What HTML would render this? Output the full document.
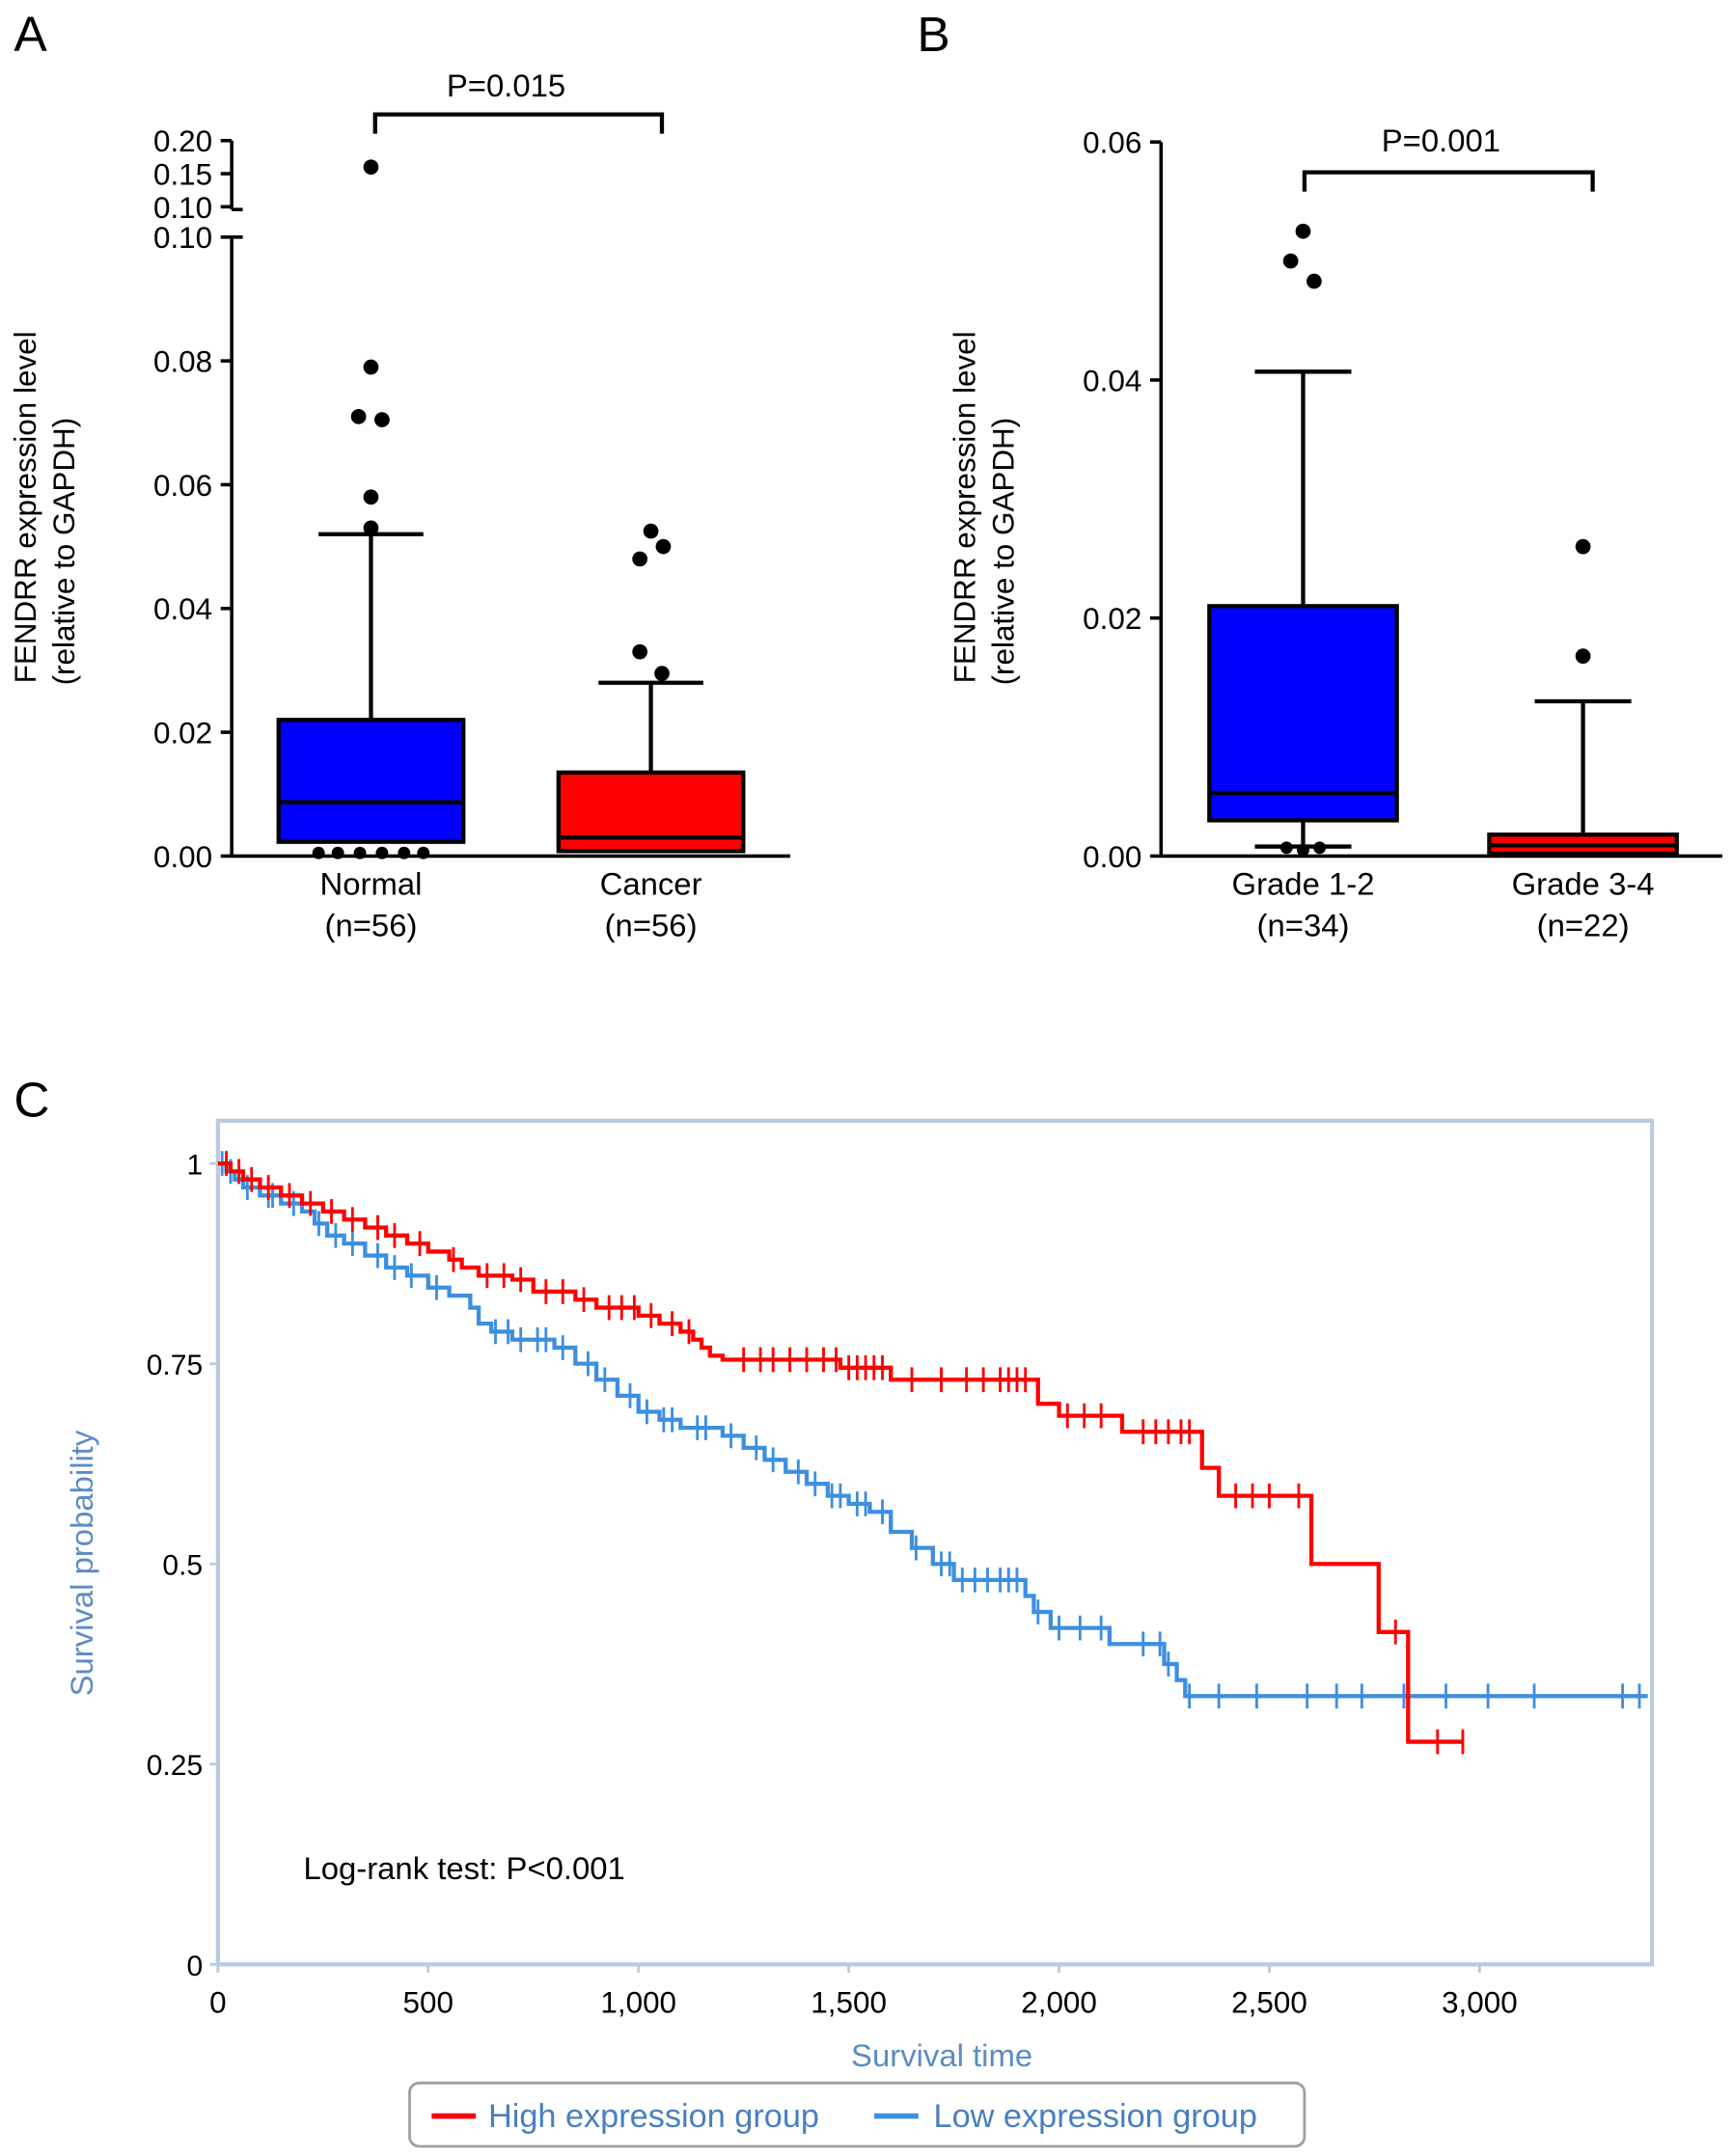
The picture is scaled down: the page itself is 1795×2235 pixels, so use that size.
<!DOCTYPE html>
<html><head><meta charset="utf-8"><style>
html,body{margin:0;padding:0;background:#fff;}
svg{display:block;}
text{font-family:"Liberation Sans",sans-serif;}
.kt{font-family:"Liberation Sans Narrow","Liberation Sans",sans-serif;}
</style></head><body>
<svg id="fig" width="1795" height="2235" viewBox="0 0 1256 1564" xmlns="http://www.w3.org/2000/svg">
<text x="10" y="37" font-size="36">A</text>
<text x="665" y="37" font-size="36">B</text>
<text x="10" y="810" font-size="36">C</text>
<g id="pa"></g>
<g id="pb"></g>
<g id="pc"></g>
</svg>
<script>
// ---------- Panel A data ----------
const aCats = ["Normal", "Cancer"];
const aN = ["(n=56)", "(n=56)"];
const aQ1 = [0.0023, 0.0008];
const aMed = [0.0087, 0.003];
const aQ3 = [0.022, 0.0135];
const aWhiHi = [0.052, 0.028];
const aOutNormal = [[0.16,0],[0.079,0],[0.071,-9],[0.0705,8],[0.058,0],[0.053,0],[0.0005,-38],[0.0005,-24],[0.0005,-8],[0.0005,8],[0.0005,24],[0.0005,38]];
const aOutCancer = [[0.0525,0],[0.050,9],[0.048,-8],[0.033,-8],[0.0295,8]];
const aTicksLow = [0, 0.02, 0.04, 0.06, 0.08, 0.10];
const aTicksHigh = [0.10, 0.15, 0.20];
// ---------- Panel B data ----------
const bCats = ["Grade 1-2", "Grade 3-4"];
const bN = ["(n=34)", "(n=22)"];
const bQ1 = [0.003, 0.0002];
const bMed = [0.0053, 0.0009];
const bQ3 = [0.021, 0.0018];
const bWhiHi = [0.0407, 0.013];
const bWhiLo = [0.0008, 0.0002];
const bOutG12 = [[0.0525,0],[0.050,-9],[0.0483,8],[0.0007,-12],[0.0005,0],[0.0007,12]];
const bOutG34 = [[0.026,0],[0.0168,0]];
const bTicks = [0, 0.02, 0.04, 0.06];
// ---------- Panel C data ----------
const highT = [0,30,60,100,150,200,250,300,350,400,450,500,550,580,620,700,750,850,900,1000,1050,1100,1130,1150,1170,1200,1480,1600,1950,2000,2150,2340,2380,2600,2760,2830];
const highS = [1,0.99,0.98,0.97,0.96,0.95,0.94,0.93,0.92,0.91,0.90,0.89,0.88,0.87,0.86,0.855,0.84,0.83,0.82,0.81,0.80,0.79,0.78,0.77,0.76,0.755,0.745,0.73,0.70,0.685,0.665,0.62,0.585,0.5,0.415,0.278];
const highEnd = 2960;
const highCens = [20,50,80,120,170,220,270,320,380,420,480,560,640,680,720,780,820,870,930,960,990,1030,1080,1120,1250,1290,1320,1360,1400,1440,1470,1500,1520,1540,1560,1580,1650,1720,1780,1820,1860,1880,1900,1920,2020,2060,2100,2200,2230,2260,2290,2310,2420,2460,2500,2570,2800,2900,2960];
const lowT = [0,20,40,60,100,150,200,230,260,300,350,400,450,500,550,600,620,650,700,800,850,900,950,1000,1050,1100,1200,1250,1300,1350,1400,1450,1500,1550,1600,1650,1700,1750,1920,1940,1980,2120,2250,2280,2300];
const lowS = [1,0.99,0.98,0.97,0.96,0.95,0.94,0.925,0.91,0.90,0.885,0.87,0.86,0.845,0.835,0.82,0.80,0.79,0.78,0.77,0.75,0.73,0.71,0.69,0.68,0.67,0.66,0.645,0.63,0.615,0.60,0.585,0.575,0.565,0.54,0.52,0.50,0.48,0.46,0.44,0.42,0.40,0.375,0.355,0.335];
const lowEnd = 3400;
const lowCens = [10,30,70,120,130,180,240,280,320,380,420,460,520,660,690,720,760,780,820,880,920,980,1020,1060,1080,1140,1160,1220,1280,1320,1380,1420,1460,1480,1520,1540,1580,1660,1720,1740,1770,1800,1830,1860,1880,1900,1950,2000,2050,2100,2200,2240,2260,2310,2380,2470,2590,2660,2720,2820,2920,3020,3130,3340,3380];
const cXTicks = [0,500,1000,1500,2000,2500,3000];
const cXLabels = ["0","500","1,000","1,500","2,000","2,500","3,000"];
const cYTicks = [0,0.25,0.5,0.75,1];
const cYLabels = ["0","0.25","0.5","0.75","1"];

const NS="http://www.w3.org/2000/svg";
function mk(parent, tag, attrs, txt){const e=document.createElementNS(NS,tag);for(const k in attrs)e.setAttribute(k,attrs[k]);if(txt!==undefined)e.textContent=txt;parent.appendChild(e);return e;}

// ===== Panel A =====
(function(){
  const g=document.getElementById('pa');
  const x0=168, xEnd=573, y0=621;
  const yA=v=> v<=0.1 ? y0 - v/0.1*449 : 150 - (v-0.10)/0.1*48;
  const cx=[269,472], hw=67, capw=38;
  const fills=["#0000ff","#ff0000"];
  let e;
  e=mk(g,'line',{x1:x0,y1:172,x2:x0,y2:y0,stroke:'#000','stroke-width':2.5});
  
  e=mk(g,'line',{x1:x0,y1:102,x2:x0,y2:152,stroke:'#000','stroke-width':2.5});
  
  mk(g,'line',{x1:x0,y1:152,x2:x0+8,y2:152,stroke:'#000','stroke-width':2.5});
  mk(g,'line',{x1:x0,y1:172,x2:x0+8,y2:172,stroke:'#000','stroke-width':2.5});
  e=mk(g,'line',{x1:x0,y1:y0,x2:xEnd,y2:y0,stroke:'#000','stroke-width':2.5});
  
  aTicksLow.forEach(v=>{const y=yA(v);mk(g,'line',{x1:x0-8,y1:y,x2:x0,y2:y,stroke:'#000','stroke-width':2.5});
    e=mk(g,'text',{x:x0-14,y:y+8,'font-size':22,'text-anchor':'end'},v.toFixed(2));
    });
  aTicksHigh.forEach((v,i)=>{const y=i==0?150:yA(v);mk(g,'line',{x1:x0-8,y1:y,x2:x0,y2:y,stroke:'#000','stroke-width':2.5});
    e=mk(g,'text',{x:x0-14,y:y+8,'font-size':22,'text-anchor':'end'},v.toFixed(2));
    });
  e=mk(g,'text',{transform:'translate(26,368) rotate(-90)','font-size':22,'text-anchor':'middle'},'FENDRR expression level');
  
  e=mk(g,'text',{transform:'translate(54,400) rotate(-90)','font-size':22,'text-anchor':'middle'},'(relative to GAPDH)');
  
  const outs=[aOutNormal,aOutCancer];
  aCats.forEach((c,i)=>{
    const x=cx[i];
    e=mk(g,'line',{x1:x,y1:yA(aQ3[i]),x2:x,y2:yA(aWhiHi[i]),stroke:'#000','stroke-width':3});
    
    mk(g,'line',{x1:x-capw,y1:yA(aWhiHi[i]),x2:x+capw,y2:yA(aWhiHi[i]),stroke:'#000','stroke-width':3});
    e=mk(g,'rect',{x:x-hw,y:yA(aQ3[i]),width:2*hw,height:yA(aQ1[i])-yA(aQ3[i]),fill:fills[i],stroke:'#000','stroke-width':3});
    
    mk(g,'line',{x1:x-hw,y1:yA(aMed[i]),x2:x+hw,y2:yA(aMed[i]),stroke:'#000','stroke-width':3});
    outs[i].forEach(o=>{e=mk(g,'circle',{cx:x+o[1],cy:yA(o[0]),r:o[0]<0.002?4.5:5.5,fill:'#000'});
      });
    e=mk(g,'text',{x:x,y:649,'font-size':23,'text-anchor':'middle'},c);
    
    e=mk(g,'text',{x:x,y:679,'font-size':23,'text-anchor':'middle'},aN[i]);
    
  });
  e=mk(g,'path',{d:'M272,97 V83 H480 V97',fill:'none',stroke:'#000','stroke-width':3});
  
  e=mk(g,'text',{x:367,y:70,'font-size':23,'text-anchor':'middle'},'P=0.015');
  
})();

// ===== Panel B =====
(function(){
  const g=document.getElementById('pb');
  const x0=842, xEnd=1249, y0=621;
  const yB=v=> y0 - v/0.06*518;
  const cx=[945,1148], hw=68, capw=35;
  const fills=["#0000ff","#ff0000"];
  let e;
  e=mk(g,'line',{x1:x0,y1:103,x2:x0,y2:y0,stroke:'#000','stroke-width':2.5});
  
  e=mk(g,'line',{x1:x0,y1:y0,x2:xEnd,y2:y0,stroke:'#000','stroke-width':2.5});
  
  bTicks.forEach(v=>{const y=yB(v);mk(g,'line',{x1:x0-8,y1:y,x2:x0,y2:y,stroke:'#000','stroke-width':2.5});
    e=mk(g,'text',{x:x0-14,y:y+8,'font-size':22,'text-anchor':'end'},v.toFixed(2));
    });
  e=mk(g,'text',{transform:'translate(707,368) rotate(-90)','font-size':22,'text-anchor':'middle'},'FENDRR expression level');
  
  e=mk(g,'text',{transform:'translate(735,400) rotate(-90)','font-size':22,'text-anchor':'middle'},'(relative to GAPDH)');
  
  const outs=[bOutG12,bOutG34];
  bCats.forEach((c,i)=>{
    const x=cx[i];
    e=mk(g,'line',{x1:x,y1:yB(bWhiLo[i]),x2:x,y2:yB(bWhiHi[i]),stroke:'#000','stroke-width':3});
    
    mk(g,'line',{x1:x-capw,y1:yB(bWhiHi[i]),x2:x+capw,y2:yB(bWhiHi[i]),stroke:'#000','stroke-width':3});
    mk(g,'line',{x1:x-capw,y1:yB(bWhiLo[i]),x2:x+capw,y2:yB(bWhiLo[i]),stroke:'#000','stroke-width':3});
    e=mk(g,'rect',{x:x-hw,y:yB(bQ3[i]),width:2*hw,height:yB(bQ1[i])-yB(bQ3[i]),fill:fills[i],stroke:'#000','stroke-width':3});
    
    mk(g,'line',{x1:x-hw,y1:yB(bMed[i]),x2:x+hw,y2:yB(bMed[i]),stroke:'#000','stroke-width':3});
    outs[i].forEach(o=>{e=mk(g,'circle',{cx:x+o[1],cy:yB(o[0]),r:o[0]<0.002?4.5:5.5,fill:'#000'});
      });
    e=mk(g,'text',{x:x,y:649,'font-size':23,'text-anchor':'middle'},c);
    
    e=mk(g,'text',{x:x,y:679,'font-size':23,'text-anchor':'middle'},bN[i]);
    
  });
  e=mk(g,'path',{d:'M946,139 V125 H1155 V139',fill:'none',stroke:'#000','stroke-width':3});
  
  e=mk(g,'text',{x:1045,y:110,'font-size':23,'text-anchor':'middle'},'P=0.001');
  
})();

// ===== Panel C =====
(function(){
  const g=document.getElementById('pc');
  const xC=t=>158 + t*0.305;
  const yC=s=>1425 - s*581;
  const frame='#b9cbe0';
  let e;
  e=mk(g,'rect',{x:158,y:813,width:1040,height:612,fill:'none',stroke:frame,'stroke-width':3});
  
  cYTicks.forEach((v,i)=>{const y=yC(v);mk(g,'line',{x1:152,y1:y,x2:158,y2:y,stroke:frame,'stroke-width':2});
    e=mk(g,'text',{x:147,y:y+8,'font-size':21,'text-anchor':'end','class':'kt'},cYLabels[i]);
    });
  cXTicks.forEach((v,i)=>{const x=xC(v);mk(g,'line',{x1:x,y1:1425,x2:x,y2:1431,stroke:frame,'stroke-width':2});
    e=mk(g,'text',{x:x,y:1460,'font-size':22,'text-anchor':'middle','class':'kt'},cXLabels[i]);
    });
  e=mk(g,'text',{x:683,y:1499,'font-size':23,'text-anchor':'middle',fill:'#5b8cc4','class':'kt'},'Survival time');
  
  e=mk(g,'text',{transform:'translate(67,1134) rotate(-90)','font-size':23,'text-anchor':'middle',fill:'#5b8cc4','class':'kt'},'Survival probability');
  
  e=mk(g,'text',{x:220,y:1363,'font-size':23,'class':'kt'},'Log-rank test: P<0.001');
  
  function survAt(T,S,t){let s=S[0];for(let i=0;i<T.length;i++){if(T[i]<=t)s=S[i];}return s;}
  function km(T,S,end,cens,col,name){
    let d='M'+xC(T[0])+','+yC(S[0]);
    for(let i=1;i<T.length;i++){d+=' H'+xC(T[i])+' V'+yC(S[i]);}
    d+=' H'+xC(end);
    e=mk(g,'path',{d:d,fill:'none',stroke:col,'stroke-width':3});
    
    cens.forEach(t=>{const x=xC(t),y=yC(survAt(T,S,t));
      e=mk(g,'line',{x1:x,y1:y-9,x2:x,y2:y+9,stroke:col,'stroke-width':2});
      });
  }
  km(lowT,lowS,lowEnd,lowCens,'#3d8fe0','low-expression');
  km(highT,highS,highEnd,highCens,'#ff0000','high-expression');
  e=mk(g,'rect',{x:297,y:1511,width:649,height:46,rx:7,fill:'#fff',stroke:'#a0a0a0','stroke-width':2});
  
  e=mk(g,'line',{x1:313,y1:1535,x2:345,y2:1535,stroke:'#ff0000','stroke-width':4});
  
  e=mk(g,'text',{x:354,y:1543,'font-size':24,fill:'#4a7fc0','class':'kt'},'High expression group');
  
  e=mk(g,'line',{x1:634,y1:1535,x2:666,y2:1535,stroke:'#3d8fe0','stroke-width':4});
  
  e=mk(g,'text',{x:677,y:1543,'font-size':24,fill:'#4a7fc0','class':'kt'},'Low expression group');
  
})();
</script>
</body></html>
